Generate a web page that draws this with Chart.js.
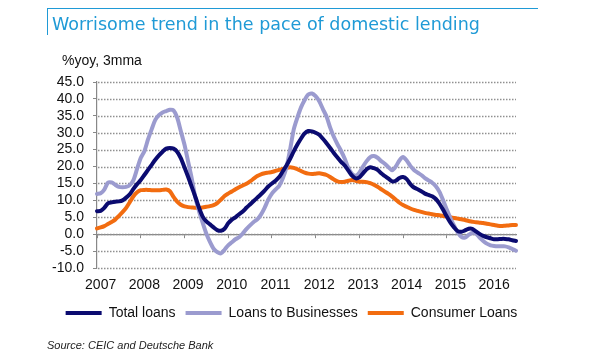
<!DOCTYPE html>
<html>
<head>
<meta charset="utf-8">
<script src="https://cdn.jsdelivr.net/npm/chart.js@4.4.1/dist/chart.umd.min.js"></script>
<style>
  html, body { margin: 0; padding: 0; background: #fff; }
  #wrap { position: relative; width: 600px; height: 360px; overflow: hidden; }
  #c { position: absolute; left: 0; top: 0; }
  .txt { position: absolute; white-space: nowrap; }
  #title { left: 52px; top: 14px; font: 17.5px "DejaVu Sans", sans-serif; line-height: 20px; color: #1f9ad6; }
  #sub { left: 62px; top: 52px; font: 14px "Liberation Sans", Arial, sans-serif; line-height: 16px; color: #111; }
  #src { left: 47px; top: 339px; font: italic 11px "Liberation Sans", Arial, sans-serif; line-height: 13px; color: #222; }
  #hline { position: absolute; left: 47px; top: 8px; width: 491px; height: 0; border-top: 1.5px solid #1f9ad6; }
  #vline { position: absolute; left: 47px; top: 8px; width: 0; height: 27px; border-left: 1.5px solid #1f9ad6; }
</style>
</head>
<body>
<div id="wrap">
  <canvas id="c" width="600" height="360"></canvas>
  <div id="hline"></div>
  <div id="vline"></div>
  <div class="txt" id="title">Worrisome trend in the pace of domestic lending</div>
  <div class="txt" id="sub">%yoy, 3mma</div>
  <div class="txt" id="src">Source: CEIC and Deutsche Bank</div>
</div>
<script>
// ---- data ----
const years = ["2007","2008","2009","2010","2011","2012","2013","2014","2015","2016"];
const seriesNames = ["Total loans", "Loans to Businesses", "Consumer Loans"];
// monthly, Jan 2007 .. Aug 2016
const totalLoans = [
  6.8, 6.9, 7.8, 9.1, 9.4, 9.6, 9.7, 10.0, 10.8, 11.8,
  13.4, 14.8, 16.0, 17.5, 19.0, 20.5, 22.0, 23.3, 24.4, 25.3,
  25.5, 25.3, 24.4, 22.5, 19.8, 17.0, 14.0, 11.0, 7.8, 5.2,
  3.8, 2.9, 2.0, 1.2, 1.0, 1.6, 3.2, 4.3, 5.0, 5.9,
  6.7, 7.8, 8.8, 9.8, 10.8, 11.8, 12.9, 14.1, 15.0, 15.8,
  16.9, 18.6, 20.3, 22.3, 24.5, 26.5, 28.3, 29.8, 30.5, 30.4,
  30.0, 29.4, 28.2, 26.9, 25.5, 24.0, 22.7, 21.4, 20.3, 18.8,
  17.3, 16.5, 16.8, 18.0, 19.2, 19.8, 19.5, 19.0, 18.0, 17.2,
  16.4, 15.6, 15.8, 16.6, 16.9, 16.3, 14.8, 13.8, 13.3, 12.7,
  12.0, 11.6, 11.2, 10.4, 9.0, 7.2, 5.2, 3.4, 2.0, 0.9,
  0.7, 1.1, 1.6, 1.6, 0.8, 0.1, -0.5, -0.9, -1.2, -1.5,
  -1.5, -1.4, -1.4, -1.5, -1.8, -2.0
];
const businessLoans = [
  11.9, 12.1, 13.2, 15.2, 15.3, 14.6, 14.0, 13.9, 14.0, 14.5,
  16.0, 19.3, 22.5, 24.5, 28.0, 31.0, 33.8, 35.2, 36.0, 36.4,
  36.8, 36.6, 34.5, 30.5, 26.5, 21.5, 16.5, 10.8, 6.8, 3.4,
  0.2, -2.3, -4.3, -5.3, -5.7, -4.6, -3.3, -2.4, -1.5, -0.9,
  0.2, 1.5, 2.6, 3.6, 4.4, 5.8, 7.8, 10.2, 12.0, 13.2,
  14.3, 16.5, 19.8, 25.0, 31.0, 34.5, 37.5, 39.7, 41.3, 41.6,
  40.8, 39.3, 37.0, 34.8, 31.5, 28.8, 26.6, 24.6, 22.3, 19.5,
  17.8, 17.3, 18.2, 20.0, 21.6, 22.8, 23.1, 22.6, 21.6, 20.8,
  19.8, 18.9, 20.0, 21.8, 22.8, 21.8, 20.2, 19.0, 18.2, 17.5,
  16.6, 15.9, 15.2, 14.2, 12.5, 10.0, 7.3, 4.8, 2.5, 0.5,
  -0.8, -1.0, -0.2, 0.4, 0.2, -1.0, -2.0, -2.8, -3.3, -3.5,
  -3.6, -3.6, -3.6, -3.9, -4.4, -4.9
];
const consumerLoans = [
  1.7, 2.0, 2.4, 3.0, 3.6, 4.3, 5.4, 6.5, 7.8, 9.5,
  11.2, 12.4, 13.0, 13.1, 13.1, 13.0, 13.0, 13.0, 13.1, 13.2,
  12.7, 11.0, 9.6, 8.7, 8.2, 8.0, 7.9, 7.8, 7.8, 7.9,
  8.1, 8.3, 8.6, 9.2, 10.2, 11.3, 12.0, 12.6, 13.3, 13.9,
  14.4, 14.9, 15.6, 16.4, 17.2, 17.7, 18.0, 18.2, 18.4, 18.7,
  19.0, 19.3, 19.6, 19.8, 19.6, 19.2, 18.7, 18.2, 17.9, 17.8,
  17.9, 18.0, 17.8, 17.5, 16.9, 16.2, 15.6, 15.4, 15.5, 15.8,
  16.0, 15.8, 15.5, 15.5, 15.4, 15.1, 14.6, 14.0, 13.3, 12.6,
  11.9, 11.1, 10.2, 9.3, 8.6, 8.1, 7.6, 7.2, 6.9, 6.6,
  6.3, 6.1, 5.9, 5.7, 5.6, 5.4, 5.2, 5.0, 4.8, 4.6,
  4.4, 4.2, 3.9, 3.7, 3.5, 3.4, 3.3, 3.1, 2.9, 2.7,
  2.5, 2.4, 2.5, 2.6, 2.7, 2.7
];
const yTicks = { min: -10, max: 45, step: 5 };

// categories: one per month
const months = [];
for (let i = 0; i < totalLoans.length; i++) {
  const y = 2007 + Math.floor(i / 12);
  const m = (i % 12) + 1;
  months.push(y + "-" + String(m).padStart(2, "0"));
}

const FONT = "'Liberation Sans', Arial, sans-serif";
const colors = ["#0b0b70", "#9b9bcf", "#f26c10"];

// dotted horizontal gridlines, placed from the y scale's own ticks
const dottedGrid = {
  id: "dottedGrid",
  beforeDatasetsDraw(chart) {
    const { ctx, chartArea } = chart;
    const ys = chart.scales.y;
    ctx.save();
    ctx.strokeStyle = "#909090";
    ctx.lineWidth = 1.5;
    ctx.setLineDash([1.5, 1.5]);
    ys.ticks.forEach(t => {
      const py = Math.round(ys.getPixelForValue(t.value)) + 0.5;
      ctx.beginPath();
      ctx.moveTo(chartArea.left + 1, py);
      ctx.lineTo(chartArea.right, py);
      ctx.stroke();
    });
    ctx.restore();
  }
};

new Chart(document.getElementById("c"), {
  type: "line",
  data: {
    labels: months,
    datasets: [
      { label: seriesNames[0], data: totalLoans, borderColor: colors[0], backgroundColor: colors[0] },
      { label: seriesNames[1], data: businessLoans, borderColor: colors[1], backgroundColor: colors[1] },
      { label: seriesNames[2], data: consumerLoans, borderColor: colors[2], backgroundColor: colors[2] }
    ]
  },
  plugins: [dottedGrid],
  options: {
    responsive: false,
    animation: false,
    devicePixelRatio: 1,
    layout: { padding: { left: 0, right: 17, top: 82, bottom: 30 } },
    elements: {
      line: { borderWidth: 4, tension: 0.25, borderCapStyle: "round", borderJoinStyle: "round" },
      point: { radius: 0 }
    },
    plugins: {
      tooltip: { enabled: false },
      legend: {
        position: "bottom",
        labels: {
          boxWidth: 36, boxHeight: 4, padding: 10,
          font: { family: FONT, size: 14 }, color: "#111",
          generateLabels: (chart) => Chart.defaults.plugins.legend.labels.generateLabels(chart).map(l => Object.assign(l, { lineWidth: 0 }))
        }
      }
    },
    scales: {
      x: {
        type: "category",
        position: { y: 0 },
        grid: { display: true, drawOnChartArea: false, drawTicks: true, tickLength: 3, tickColor: "#888", tickWidth: 1 },
        border: { display: true, color: "#888", width: 1.2 },
        ticks: {
          autoSkip: false, maxRotation: 0, padding: 0,
          font: { size: 1 },
          callback: (v, i) => (i % 12 === 0 ? "" : null)
        }
      },
      x2: {
        type: "category",
        labels: months,
        position: "bottom",
        grid: { display: false, drawTicks: false },
        border: { display: false },
        ticks: {
          autoSkip: false, maxRotation: 0, padding: 9,
          font: { family: FONT, size: 14 }, color: "#111",
          callback: (v, i) => (i % 12 === 1 ? years[Math.floor(i / 12)] : null)
        },
        afterFit: (s) => { s.height = 28; }
      },
      y: {
        min: yTicks.min, max: yTicks.max,
        ticks: {
          stepSize: yTicks.step, padding: 9, autoSkip: false,
          font: { family: FONT, size: 14 }, color: "#111",
          callback: (v) => Number(v).toFixed(1)
        },
        grid: { display: true, drawOnChartArea: false, drawTicks: true, tickLength: 4, tickColor: "#888", tickWidth: 1 },
        border: { display: true, color: "#888", width: 1.2 },
        afterFit: (s) => { s.width = 97; }
      },
      yR: {
        type: "linear", position: "right", display: true,
        ticks: { display: false }, grid: { display: false, drawOnChartArea: false }, border: { display: false },
        afterFit: (s) => { s.width = 67; }
      }
    }
  }
});
</script>
</body>
</html>
